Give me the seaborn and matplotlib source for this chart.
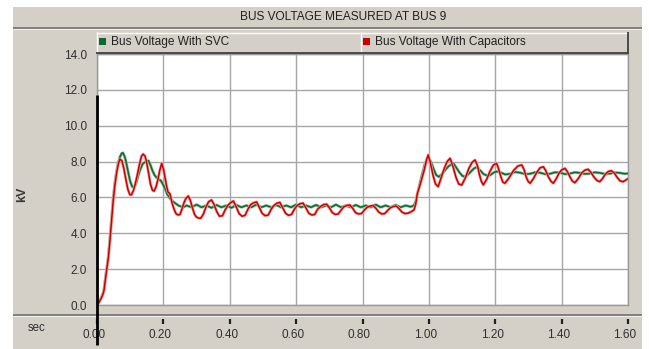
import matplotlib
matplotlib.use("Agg")
import matplotlib.pyplot as plt
from matplotlib.patches import Rectangle
from matplotlib.lines import Line2D
from matplotlib.transforms import ScaledTranslation
import matplotlib.patheffects as pe
import pandas as pd
import seaborn as sns

# ---- chart content ----
title = "BUS VOLTAGE MEASURED AT BUS 9"
series_names = ["Bus Voltage With SVC", "Bus Voltage With Capacitors"]
series_colors = ["#0b6b2e", "#c80000"]
x_ticks = [0.0, 0.2, 0.4, 0.6, 0.8, 1.0, 1.2, 1.4, 1.6]
y_ticks = [0.0, 2.0, 4.0, 6.0, 8.0, 10.0, 12.0, 14.0]
x_unit = "sec"
y_unit = "kV"

# Bus 9 voltage with SVC (time in s, voltage in kV)
svc_t = [
    0.000, 0.006, 0.012, 0.017, 0.021, 0.025, 0.029, 0.034, 0.039, 0.044,
    0.049, 0.054, 0.059, 0.064, 0.069, 0.074, 0.078, 0.083, 0.088, 0.094,
    0.100, 0.106, 0.112, 0.118, 0.124, 0.130, 0.137, 0.143, 0.149, 0.155,
    0.161, 0.167, 0.173, 0.180, 0.186, 0.192, 0.198, 0.205, 0.211, 0.218,
    0.224, 0.230, 0.238, 0.245, 0.253, 0.260, 0.270, 0.285, 0.300, 0.315,
    0.330, 0.345, 0.360, 0.375, 0.390, 0.405, 0.420, 0.435, 0.450, 0.465,
    0.480, 0.495, 0.510, 0.525, 0.540, 0.555, 0.570, 0.585, 0.600, 0.615,
    0.630, 0.645, 0.660, 0.675, 0.690, 0.705, 0.720, 0.735, 0.750, 0.765,
    0.780, 0.795, 0.810, 0.825, 0.840, 0.855, 0.870, 0.885, 0.900, 0.915,
    0.930, 0.945, 0.955, 0.961, 0.967, 0.973, 0.980, 0.987, 0.994, 1.000,
    1.007, 1.015, 1.022, 1.030, 1.040, 1.050, 1.060, 1.074, 1.083, 1.092,
    1.101, 1.110, 1.119, 1.127, 1.135, 1.144, 1.155, 1.165, 1.175, 1.185,
    1.195, 1.205, 1.218, 1.230, 1.245, 1.260, 1.275, 1.290, 1.305, 1.320,
    1.335, 1.350, 1.365, 1.380, 1.395, 1.410, 1.425, 1.440, 1.455, 1.470,
    1.485, 1.500, 1.515, 1.530, 1.545, 1.560, 1.575, 1.590, 1.600,
]
svc_kv = [
    0.00, 0.15, 0.40, 0.60, 0.85, 1.45, 2.00, 2.70, 3.70, 4.80,
    5.95, 6.85, 7.45, 7.95, 8.25, 8.45, 8.49, 8.30, 7.95, 7.40,
    6.90, 6.60, 6.55, 6.80, 7.20, 7.55, 7.85, 7.95, 8.02, 8.05,
    7.80, 7.50, 7.25, 7.10, 7.00, 6.95, 6.75, 6.50, 6.20, 6.00,
    5.85, 5.76, 5.65, 5.55, 5.50, 5.45, 5.55, 5.45, 5.60, 5.45,
    5.55, 5.42, 5.58, 5.45, 5.55, 5.42, 5.58, 5.45, 5.55, 5.45,
    5.60, 5.45, 5.55, 5.45, 5.58, 5.45, 5.55, 5.45, 5.60, 5.45,
    5.55, 5.45, 5.58, 5.45, 5.55, 5.45, 5.60, 5.45, 5.55, 5.45,
    5.58, 5.45, 5.55, 5.45, 5.60, 5.45, 5.55, 5.45, 5.58, 5.45,
    5.55, 5.48, 5.55, 5.80, 6.30, 6.80, 7.30, 7.80, 8.10, 8.20,
    7.95, 7.55, 7.25, 7.15, 7.30, 7.55, 7.75, 7.90, 7.65, 7.40,
    7.20, 7.15, 7.30, 7.45, 7.60, 7.70, 7.50, 7.30, 7.22, 7.25,
    7.38, 7.45, 7.38, 7.28, 7.32, 7.42, 7.38, 7.30, 7.32, 7.40,
    7.38, 7.30, 7.32, 7.40, 7.38, 7.30, 7.33, 7.40, 7.37, 7.31,
    7.33, 7.40, 7.37, 7.31, 7.33, 7.39, 7.37, 7.32, 7.34,
]

# Bus 9 voltage with fixed capacitors (time in s, voltage in kV)
cap_t = [
    0.000, 0.006, 0.012, 0.017, 0.021, 0.025, 0.029, 0.034, 0.039, 0.044,
    0.049, 0.054, 0.059, 0.064, 0.069, 0.075, 0.081, 0.087, 0.093, 0.099,
    0.104, 0.110, 0.116, 0.122, 0.128, 0.134, 0.139, 0.145, 0.150, 0.156,
    0.161, 0.167, 0.172, 0.178, 0.183, 0.189, 0.195, 0.200, 0.205, 0.210,
    0.214, 0.220, 0.226, 0.232, 0.238, 0.244, 0.250, 0.256, 0.262, 0.268,
    0.275, 0.281, 0.287, 0.294, 0.300, 0.306, 0.312, 0.320, 0.328, 0.336,
    0.345, 0.353, 0.361, 0.369, 0.378, 0.386, 0.394, 0.402, 0.411, 0.420,
    0.428, 0.437, 0.446, 0.455, 0.463, 0.472, 0.481, 0.490, 0.498, 0.507,
    0.516, 0.525, 0.533, 0.542, 0.551, 0.560, 0.568, 0.577, 0.586, 0.595,
    0.603, 0.612, 0.621, 0.630, 0.638, 0.647, 0.656, 0.665, 0.674, 0.683,
    0.692, 0.701, 0.709, 0.718, 0.727, 0.736, 0.744, 0.753, 0.762, 0.771,
    0.779, 0.788, 0.797, 0.806, 0.814, 0.823, 0.832, 0.841, 0.849, 0.858,
    0.867, 0.876, 0.884, 0.893, 0.902, 0.911, 0.919, 0.928, 0.937, 0.946,
    0.955, 0.960, 0.965, 0.970, 0.975, 0.981, 0.987, 0.993, 0.998, 1.005,
    1.013, 1.020, 1.028, 1.037, 1.046, 1.055, 1.064, 1.073, 1.082, 1.090,
    1.099, 1.110, 1.120, 1.130, 1.139, 1.146, 1.152, 1.158, 1.164, 1.174,
    1.184, 1.194, 1.204, 1.210, 1.217, 1.223, 1.229, 1.242, 1.255, 1.268,
    1.280, 1.287, 1.293, 1.299, 1.305, 1.315, 1.325, 1.335, 1.345, 1.352,
    1.360, 1.368, 1.375, 1.384, 1.392, 1.401, 1.410, 1.417, 1.425, 1.432,
    1.440, 1.450, 1.460, 1.470, 1.480, 1.488, 1.497, 1.506, 1.515, 1.523,
    1.532, 1.541, 1.550, 1.559, 1.568, 1.576, 1.585, 1.592, 1.600,
]
cap_kv = [
    0.00, 0.15, 0.35, 0.55, 0.80, 1.40, 1.95, 2.60, 3.60, 4.70,
    5.86, 6.70, 7.35, 7.85, 8.14, 8.05, 7.60, 7.00, 6.45, 6.15,
    6.15, 6.40, 6.80, 7.30, 7.85, 8.30, 8.42, 8.30, 7.90, 7.30,
    6.75, 6.40, 6.35, 6.60, 6.95, 7.50, 7.90, 7.60, 7.10, 6.60,
    6.30, 6.20, 5.70, 5.35, 5.10, 5.02, 5.05, 5.35, 5.70, 5.95,
    6.08, 5.85, 5.45, 5.05, 4.90, 4.85, 4.83, 5.05, 5.45, 5.75,
    5.86, 5.60, 5.20, 4.95, 4.98, 5.30, 5.55, 5.70, 5.80, 5.45,
    5.10, 4.95, 5.00, 5.35, 5.60, 5.70, 5.75, 5.40, 5.10, 4.98,
    5.02, 5.35, 5.55, 5.68, 5.72, 5.40, 5.12, 5.00, 5.05, 5.35,
    5.55, 5.65, 5.68, 5.40, 5.12, 5.02, 5.05, 5.35, 5.50, 5.60,
    5.62, 5.40, 5.15, 5.05, 5.08, 5.30, 5.48, 5.55, 5.58, 5.38,
    5.15, 5.08, 5.10, 5.30, 5.45, 5.52, 5.55, 5.38, 5.18, 5.08,
    5.10, 5.28, 5.42, 5.50, 5.52, 5.35, 5.18, 5.10, 5.12, 5.20,
    5.30, 5.60, 6.20, 6.50, 6.80, 7.20, 7.60, 8.10, 8.37, 7.90,
    7.20, 6.75, 6.60, 7.10, 7.60, 8.00, 8.18, 7.70, 7.10, 6.75,
    6.69, 7.10, 7.60, 7.95, 8.09, 7.80, 7.30, 6.90, 6.70, 7.00,
    7.45, 7.80, 7.90, 7.60, 7.15, 6.85, 6.79, 7.10, 7.50, 7.75,
    7.81, 7.55, 7.15, 6.90, 6.79, 7.05, 7.40, 7.65, 7.71, 7.50,
    7.15, 6.90, 6.79, 7.05, 7.35, 7.55, 7.62, 7.45, 7.15, 6.92,
    6.82, 7.05, 7.35, 7.52, 7.57, 7.40, 7.15, 6.95, 6.88, 7.05,
    7.30, 7.45, 7.49, 7.35, 7.10, 6.92, 6.88, 6.95, 7.05,
]

# ---- styling ----
sns.set_style("white")
plt.rcParams["font.family"] = ["Liberation Sans", "DejaVu Sans"]

PANEL = "#d4d0c8"
DARK = "#6e6e6e"
GRID = "#a6a6a6"
TEXT = "#303030"

W, H = 649, 349
fig = plt.figure(figsize=(W / 100, H / 100), dpi=100)
fig.patch.set_facecolor("white")


def fx(x):
    return x / W


def fy(y):
    return 1 - y / H


def box(x0, y0, x1, y1, **kw):
    fig.add_artist(Rectangle((fx(x0), fy(y1)), (x1 - x0) / W, (y1 - y0) / H,
                             transform=fig.transFigure, **kw))


def seg(x0, y0, x1, y1, color, lw=1.0):
    fig.add_artist(Line2D([fx(x0), fx(x1)], [fy(y0), fy(y1)],
                          transform=fig.transFigure, color=color, lw=lw,
                          solid_capstyle="butt"))


# window panel and title bar
box(13, 7, 642, 349, facecolor=PANEL, edgecolor="none", zorder=0)
seg(13, 27.5, 642, 27.5, DARK, 1.2)
seg(13, 29, 642, 29, "#eeeeea", 0.8)
fig.text(fx(343), fy(17.5), title, ha="center", va="center",
         fontsize=8.6, color="#202020")

# separator above the time axis
seg(13, 314.5, 642, 314.5, DARK, 1.2)
seg(13, 316, 642, 316, "#eeeeea", 0.8)

# legend strip: one raised cell per series
cell_edges = [96, 360, 628]
for i, (name, color) in enumerate(zip(series_names, series_colors)):
    x0, x1 = cell_edges[i], cell_edges[i + 1]
    box(x0, 32, x1, 53, facecolor=PANEL, edgecolor="none", zorder=1)
    seg(x0, 32.5, x1, 32.5, "white", 1.0)
    seg(x0 + 0.5, 32, x0 + 0.5, 53, "white", 1.0)
    box(x0 + 3, 38, x0 + 10, 45, facecolor=color, edgecolor="none", zorder=2)
    fig.text(fx(x0 + 15), fy(42), name, ha="left", va="center",
             fontsize=8.6, color="#202020")
seg(96, 53, 628, 53, "#404040", 1.3)
seg(627.5, 32, 627.5, 53.5, "#404040", 1.3)

# ---- plot area ----
ax = fig.add_axes([fx(97), fy(305), (628 - 97) / W, (305 - 54) / H])
ax.set_facecolor("white")

df = pd.concat([
    pd.DataFrame({"t": svc_t, "kV": svc_kv, "series": series_names[0]}),
    pd.DataFrame({"t": cap_t, "kV": cap_kv, "series": series_names[1]}),
], ignore_index=True)

sns.lineplot(data=df, x="t", y="kV", hue="series", hue_order=series_names,
             palette=dict(zip(series_names, series_colors)), estimator=None,
             sort=False, legend=False, linewidth=1.1, ax=ax)
for line, halo in zip(ax.get_lines(), ["#8cbb9a", "#f4a4a4"]):
    line.set_path_effects([pe.Stroke(linewidth=2.1, foreground=halo),
                           pe.Normal()])

ax.set_xlim(x_ticks[0], x_ticks[-1])
ax.set_ylim(y_ticks[0], y_ticks[-1])
ax.set_xticks(x_ticks)
ax.set_yticks(y_ticks)
ax.set_yticklabels([f"{v:.1f}" for v in y_ticks])
ax.grid(True, color=GRID, linewidth=1.0)
ax.set_axisbelow(True)
ax.tick_params(axis="x", bottom=False, labelbottom=False)
ax.tick_params(axis="y", direction="out", length=5, width=1.0, color="#505050",
               pad=2, labelsize=8.5, labelcolor=TEXT)
for s in ax.spines.values():
    s.set_color("#9a9a9a")
    s.set_linewidth(1.0)
ax.set_xlabel("")
ax.set_ylabel("")

# time axis drawn below the separator
sec = ax.secondary_xaxis(-(319 - 305) / (305 - 54))
sec.set_xticks(x_ticks)
sec.set_xticklabels([f"{v:.2f}" for v in x_ticks])
sec.spines["bottom"].set_visible(False)
sec.tick_params(axis="x", direction="out", length=3.5, width=1.6,
                color="#202020", pad=3.5, labelsize=8.5, labelcolor=TEXT)
shift = ScaledTranslation(-3.0 / 100, 0, fig.dpi_scale_trans)
for lbl in sec.get_xticklabels():
    lbl.set_transform(lbl.get_transform() + shift)

fig.text(fx(37), fy(328), x_unit, ha="center", va="center",
         fontsize=8.3, color=TEXT)
fig.text(fx(22.5), fy(194), y_unit, ha="center", va="center", rotation=90,
         fontsize=9, fontweight="bold", color="#383838")

# time cursor at t = 0
seg(97, 95, 97, 345, "#000000", 2.0)

fig.savefig("out.png", dpi=100, facecolor=fig.get_facecolor())
